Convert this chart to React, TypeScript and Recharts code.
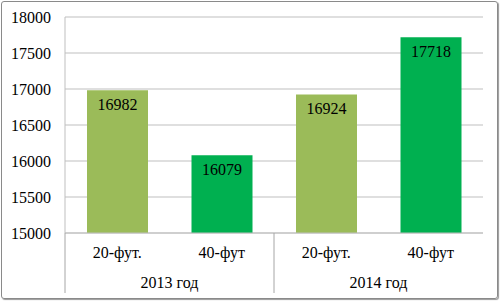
import React from 'react';
import { BarChart, Bar, XAxis, YAxis, CartesianGrid, Cell, LabelList } from 'recharts';

const types = ['20-фут.', '40-фут', '20-фут.', '40-фут'];
const years = ['2013 год', '2013 год', '2014 год', '2014 год'];
const values = [16982, 16079, 16924, 17718];
const yTicks = [15000, 15500, 16000, 16500, 17000, 17500, 18000];
const colors = ['#9BBB59', '#00B050', '#9BBB59', '#00B050'];

const data = types.map((t, i) => ({ key: i, type: t, year: years[i], value: values[i] }));

const FONT = 'Liberation Serif';

// year row: label centred under its pair, separator line at the band's left edge
const YearTick = (props: any) => {
  const { x, y, payload } = props;
  const left = x - (payload.offset || 0);
  return (
    <g>
      <line x1={left} y1={y - 36} x2={left} y2={y + 24} stroke="#a6a6a6" strokeWidth={1} />
      <text x={x} y={y} dy={19} textAnchor="middle" fontFamily={FONT} fontSize={16} fill="#000">
        {payload.value}
      </text>
    </g>
  );
};

export default function App() {
  return (
    <div style={{ position: 'absolute', left: 0, top: 0, width: 500, height: 301, background: '#fff' }}>
      <div
        style={{
          position: 'absolute',
          left: 1,
          top: 1,
          width: 495,
          height: 296,
          border: '1px solid #8a8a8a',
          borderRadius: 3,
          boxShadow: '1px 1px 1px #9a9a9a',
        }}
      />
      <div style={{ position: 'absolute', left: 0, top: 0 }}>
        <BarChart
          width={500}
          height={301}
          data={data}
          margin={{ top: 17, right: 17, left: 0, bottom: 8 }}
          barCategoryGap={22}
        >
          <CartesianGrid vertical={false} stroke="#bfbfbf" />
          <XAxis
            dataKey="key"
            xAxisId={0}
            height={36}
            tickLine={false}
            tickSize={0}
            tickMargin={14}
            axisLine={{ stroke: '#bfbfbf' }}
            tickFormatter={(v: any) => types[v]}
            tick={{ fill: '#000', fontSize: 16, fontFamily: FONT }}
            interval={0}
          />
          <XAxis
            dataKey="year"
            xAxisId="year"
            height={24}
            allowDuplicatedCategory={false}
            tickLine={false}
            tickSize={0}
            tickMargin={0}
            axisLine={false}
            tick={<YearTick />}
            interval={0}
          />
          <YAxis
            width={65}
            domain={[15000, 18000]}
            ticks={yTicks}
            interval={0}
            tickLine={false}
            tickSize={0}
            tickMargin={14}
            axisLine={{ stroke: '#bfbfbf' }}
            tick={{ fill: '#000', fontSize: 16, fontFamily: FONT }}
          />
          <Bar dataKey="value" xAxisId={0} isAnimationActive={false}>
            {data.map((d, i) => (
              <Cell key={d.key} fill={colors[i]} />
            ))}
            <LabelList
              dataKey="value"
              position="insideTop"
              offset={8}
              fill="#000"
              fontSize={16}
              fontFamily={FONT}
            />
          </Bar>
        </BarChart>
      </div>
    </div>
  );
}
